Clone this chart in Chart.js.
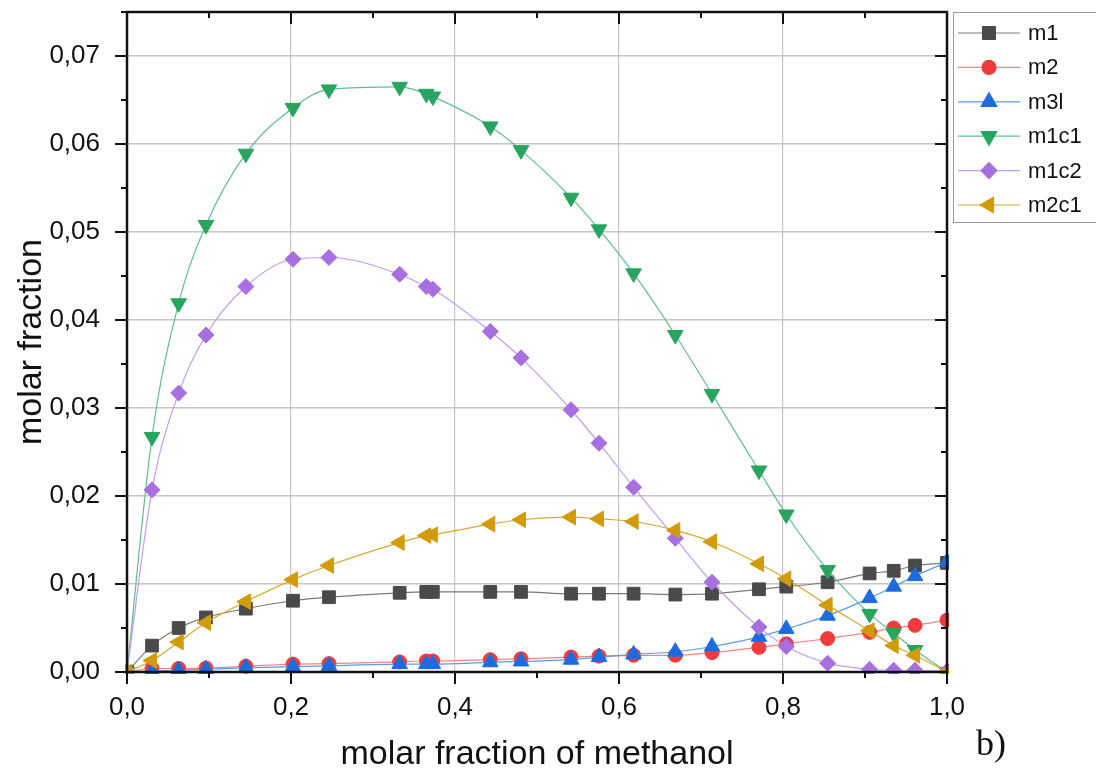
<!DOCTYPE html>
<html>
<head>
<meta charset="utf-8">
<title>molar fraction vs methanol</title>
<script src="https://cdn.jsdelivr.net/npm/chart.js@4.4.1/dist/chart.umd.min.js"></script>
<style>
  html, body { margin: 0; padding: 0; background: #fff; }
  #wrap { position: relative; width: 1096px; height: 775px; overflow: hidden; }
  #panel-tag {
    position: absolute; left: 976px; top: 722px;
    font: 36px "Liberation Serif", "Times New Roman", serif; color: #111;
  }
</style>
</head>
<body>
<div id="wrap">
  <canvas id="chart" width="1096" height="775"></canvas>
  <div id="panel-tag">b)</div>
</div>
<script>
// ---------- data ----------
const X_METHANOL = [0, 0.0305, 0.063, 0.0963, 0.145, 0.2024, 0.2463, 0.3325, 0.365, 0.373, 0.443, 0.4805,
  0.5415, 0.5756, 0.6178, 0.6687, 0.7134, 0.7707, 0.804, 0.8544, 0.9056, 0.935, 0.961, 1.0];

const M1   = [0, 0.0030, 0.0050, 0.0062, 0.0072, 0.0081, 0.0085, 0.0090, 0.0091, 0.0091, 0.0091, 0.0091,
  0.0089, 0.0089, 0.0089, 0.0088, 0.0089, 0.0094, 0.0097, 0.0102, 0.0112, 0.0115, 0.0121, 0.0124];
const M2   = [0, 0.0004, 0.0004, 0.00045, 0.00065, 0.0009, 0.00095, 0.00115, 0.00125, 0.00125, 0.0014, 0.0015,
  0.0017, 0.0018, 0.0019, 0.0019, 0.0022, 0.0028, 0.0032, 0.0038, 0.0045, 0.0050, 0.0053, 0.0059];
const M3L  = [0, 0.0001, 0.0002, 0.0003, 0.0005, 0.0006, 0.0007, 0.0009, 0.0009, 0.0009, 0.0011, 0.0012,
  0.0014, 0.0017, 0.0020, 0.0023, 0.0029, 0.0040, 0.0049, 0.0064, 0.0084, 0.0097, 0.0109, 0.0125];
const M1C1 = [0, 0.0267, 0.0419, 0.0508, 0.0589, 0.0641, 0.0662, 0.0665, 0.0657, 0.0654, 0.0620, 0.0593,
  0.0539, 0.0503, 0.0453, 0.0383, 0.0316, 0.0229, 0.0179, 0.0116, 0.0066, 0.0044, 0.0025, 0.0000];
const M1C2 = [0, 0.0207, 0.0317, 0.0383, 0.0438, 0.0469, 0.0471, 0.0452, 0.0438, 0.0435, 0.0387, 0.0357,
  0.0298, 0.0260, 0.0210, 0.0152, 0.0102, 0.0051, 0.0029, 0.0010, 0.0003, 0.0002, 0.0002, 0.0001];
const M2C1 = [0, 0.0013, 0.0034, 0.0056, 0.0080, 0.0105, 0.0121, 0.0147, 0.0155, 0.0156, 0.0168, 0.0173,
  0.0176, 0.0174, 0.0171, 0.0161, 0.0148, 0.0123, 0.0106, 0.0076, 0.0047, 0.0030, 0.0019, 0.0000];

const SERIES_NAMES = ['m1', 'm2', 'm3l', 'm1c1', 'm1c2', 'm2c1'];
const SERIES_VALUES = [M1, M2, M3L, M1C1, M1C2, M2C1];

// ---------- styles ----------
const FONT = "'Liberation Sans', Arial, sans-serif";
const INK = '#111';

const STYLES = [
  { marker: '#4a4a4a', line: '#7a7a7a', pointStyle: 'rect',     radius: 9,   rotation: 0 },
  { marker: '#ef3b3b', line: '#f08585', pointStyle: 'circle',   radius: 7,   rotation: 0 },
  { marker: '#1c6ce0', line: '#5d9be8', pointStyle: 'triangle', radius: 9,   rotation: 0 },
  { marker: '#27a55f', line: '#5fbf8c', pointStyle: 'triangle', radius: 9,   rotation: 180 },
  { marker: '#a86fe0', line: '#c49bec', pointStyle: 'rectRot',  radius: 8,   rotation: 0 },
  { marker: '#d39b0a', line: '#d8a92e', pointStyle: 'triangle', radius: 9,   rotation: -90 },
];

const isMajorX = v => Math.round(v * 10) % 2 === 0;
const isMajorY = v => Math.round(v * 1000) % 10 === 0;
const fmt = (v, d) => v.toFixed(d).replace('.', ',');

// ---------- plugins ----------

// black frame with outward ticks on left/bottom and inward ticks on top/right
const frameTicks = {
  id: 'frameTicks',
  afterDatasetsDraw(chart) {
    const { ctx, chartArea: a, scales: { x, y } } = chart;
    ctx.save();
    ctx.strokeStyle = INK;
    ctx.lineWidth = 2;
    ctx.beginPath();
    x.ticks.forEach(t => {
      const px = Math.round(x.getPixelForValue(t.value));
      const len = isMajorX(t.value) ? 12 : 6;
      ctx.moveTo(px, a.bottom); ctx.lineTo(px, a.bottom + len);
      ctx.moveTo(px, a.top);    ctx.lineTo(px, a.top + len);
    });
    y.ticks.forEach(t => {
      const py = Math.round(y.getPixelForValue(t.value));
      const len = isMajorY(t.value) ? 12 : 6;
      ctx.moveTo(a.left - len, py);  ctx.lineTo(a.left, py);
      ctx.moveTo(a.right - len, py); ctx.lineTo(a.right, py);
    });
    ctx.stroke();
    ctx.lineWidth = 2.5;
    ctx.strokeRect(a.left, a.top, a.right - a.left, a.bottom - a.top);
    ctx.restore();
  }
};

// legend box in the top-right corner: line sample + marker + name
const sideLegend = {
  id: 'sideLegend',
  afterDraw(chart) {
    const { ctx } = chart;
    const left = 953, top = 12, bottom = 222;
    const row0 = 33, rowGap = 34.4;
    ctx.save();
    ctx.strokeStyle = '#9a9a9a';
    ctx.lineWidth = 1;
    ctx.strokeRect(left + 0.5, top + 0.5, 200, bottom - top);
    ctx.font = `22px ${FONT}`;
    ctx.textBaseline = 'middle';
    ctx.fillStyle = INK;
    chart.data.datasets.forEach((ds, i) => {
      const yy = row0 + i * rowGap;
      ctx.strokeStyle = ds.borderColor;
      ctx.lineWidth = 1.2;
      ctx.beginPath();
      ctx.moveTo(958, yy); ctx.lineTo(1020, yy);
      ctx.stroke();
      ctx.fillStyle = ds.pointBackgroundColor;
      ctx.strokeStyle = ds.pointBackgroundColor;
      Chart.helpers.drawPoint(ctx, {
        pointStyle: ds.pointStyle, radius: ds.pointRadius, rotation: ds.pointRotation, borderWidth: 1
      }, 989, yy);
      ctx.fillStyle = INK;
      ctx.fillText(ds.label, 1028, yy + 1);
    });
    ctx.restore();
  }
};

// ---------- chart ----------
const datasets = SERIES_NAMES.map((name, i) => {
  const st = STYLES[i];
  return {
    label: name,
    data: X_METHANOL.map((xv, k) => ({ x: xv, y: SERIES_VALUES[i][k] })),
    borderColor: st.line,
    borderWidth: 1.2,
    backgroundColor: st.marker,
    pointBackgroundColor: st.marker,
    pointBorderColor: st.marker,
    pointBorderWidth: 1,
    pointStyle: st.pointStyle,
    pointRadius: st.radius,
    pointRotation: st.rotation,
    cubicInterpolationMode: 'monotone',
    fill: false,
    clip: 2,
    order: SERIES_NAMES.length - i,
  };
});

new Chart(document.getElementById('chart'), {
  type: 'line',
  data: { datasets },
  plugins: [frameTicks, sideLegend],
  options: {
    responsive: false,
    animation: false,
    layout: { padding: { top: 12, right: 149, left: 0, bottom: 0 } },
    plugins: { legend: { display: false }, tooltip: { enabled: false } },
    scales: {
      x: {
        type: 'linear', min: 0, max: 1,
        ticks: {
          stepSize: 0.1, autoSkip: false, maxRotation: 0, padding: 20,
          color: INK, font: { size: 26, family: FONT },
          callback: v => isMajorX(v) ? fmt(v, 1) : '',
        },
        grid: {
          drawTicks: false, lineWidth: 1.2,
          color: c => (c.tick && isMajorX(c.tick.value) && c.tick.value > 0 && c.tick.value < 1) ? '#c6c6c6' : 'rgba(0,0,0,0)',
        },
        border: { display: false },
        title: {
          display: true, text: 'molar fraction of methanol', color: INK,
          font: { size: 34, family: FONT }, padding: { top: 0, bottom: 0 },
        },
        afterFit: s => { s.height = 103; s.paddingLeft = 0; s.paddingRight = 0; },
      },
      y: {
        type: 'linear', min: 0, max: 0.075,
        ticks: {
          stepSize: 0.005, autoSkip: false, padding: 27,
          color: INK, font: { size: 26, family: FONT },
          callback: v => isMajorY(v) ? fmt(v, 2) : '',
        },
        grid: {
          drawTicks: false, lineWidth: 1.4,
          color: c => (c.tick && isMajorY(c.tick.value) && c.tick.value > 0.001) ? '#c6c6c6' : 'rgba(0,0,0,0)',
        },
        border: { display: false },
        title: {
          display: true, text: 'molar fraction', color: INK,
          font: { size: 34, family: FONT }, padding: { top: 11, bottom: 0 },
        },
        afterFit: s => { s.width = 127; s.paddingTop = 0; s.paddingBottom = 0; },
      },
    },
  },
});
</script>
</body>
</html>
